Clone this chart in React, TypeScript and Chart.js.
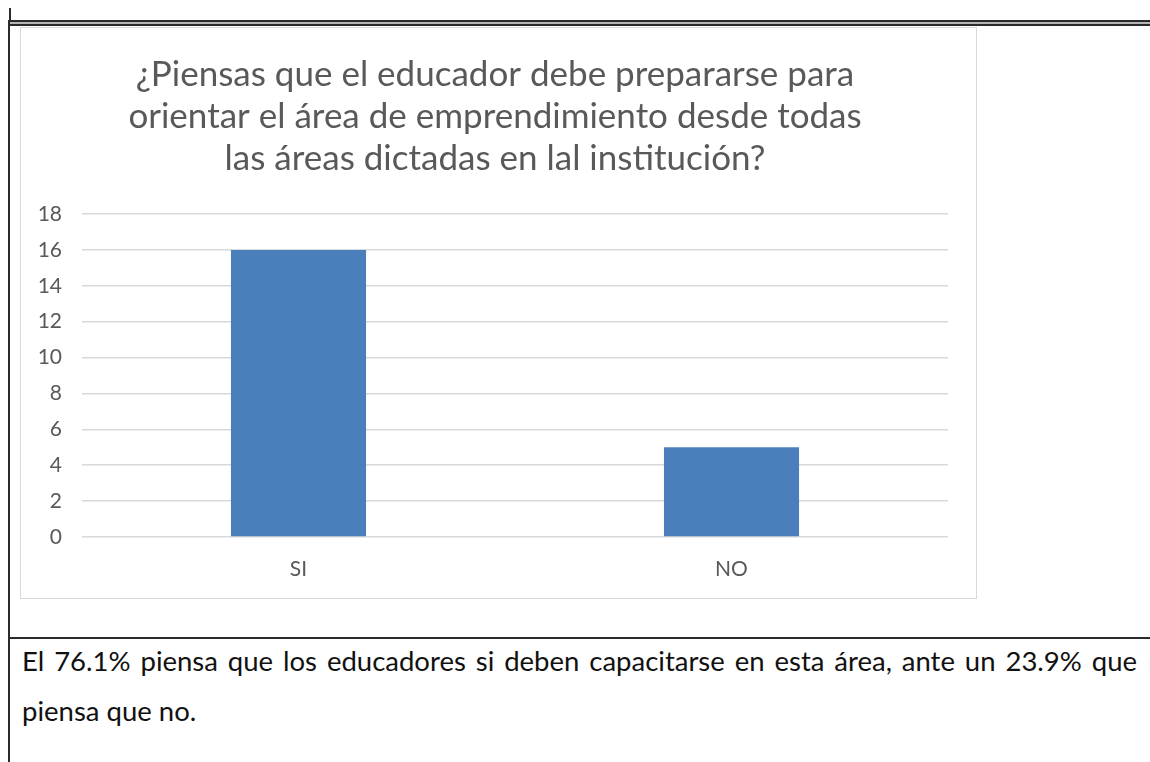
import React, { useEffect, useRef } from "react";
import { Chart, registerables } from "chart.js";

Chart.register(...registerables);

const categories: string[] = ["SI", "NO"];
const values: number[] = [16, 5];
const titleLines: string[] = [
  "¿Piensas que el educador debe prepararse para",
  "orientar el área de emprendimiento desde todas",
  "las áreas dictadas en lal institución?",
];
const yMin = 0;
const yMax = 18;
const yStep = 2;
const caption =
  "El 76.1% piensa que los educadores si deben capacitarse en esta área, ante un 23.9% que piensa que no.";

const FONT = "Lato, 'Open Sans', sans-serif";
const GREY = "#595959";

export default function App() {
  const canvasRef = useRef<HTMLCanvasElement | null>(null);

  useEffect(() => {
    if (!canvasRef.current) return;
    const chart = new Chart(canvasRef.current, {
      type: "bar",
      data: {
        labels: categories,
        datasets: [
          {
            data: values,
            backgroundColor: "#4b7fbc",
            borderWidth: 0,
            categoryPercentage: 1,
            barPercentage: 0.312,
          },
        ],
      },
      options: {
        animation: false,
        responsive: true,
        maintainAspectRatio: false,
        layout: { padding: { left: 0, right: 7, top: 0, bottom: 0 } },
        plugins: {
          legend: { display: false },
          tooltip: { enabled: false },
          title: {
            display: true,
            text: titleLines,
            color: GREY,
            font: { family: FONT, size: 35, weight: "normal", lineHeight: 1.2 },
            padding: { top: 26, bottom: 34 },
          },
        },
        scales: {
          x: {
            grid: { display: false },
            border: { display: false },
            ticks: {
              color: GREY,
              font: { family: FONT, size: 21 },
              padding: 12,
            },
            afterFit: (scale: any) => {
              scale.height = 61;
            },
          },
          y: {
            min: yMin,
            max: yMax,
            grid: { color: "#d9d9d9", lineWidth: 1.5, drawTicks: false },
            border: { display: false },
            ticks: {
              stepSize: yStep,
              color: GREY,
              font: { family: FONT, size: 21 },
              padding: 20,
            },
            afterFit: (scale: any) => {
              scale.width = 61;
            },
          },
          yRight: {
            position: "right",
            min: yMin,
            max: yMax,
            grid: { display: false, drawTicks: false },
            border: { display: false },
            ticks: { display: false },
            afterFit: (scale: any) => {
              scale.width = 21;
            },
          },
        },
      },
    });
    return () => chart.destroy();
  }, []);

  const dark = "#2b2b2b";
  return (
    <div>
      {/* small tick above table */}
      <div style={{ position: "absolute", left: 9, top: 8, width: 2, height: 14, background: dark }} />
      {/* double top border */}
      <div style={{ position: "absolute", left: 8, top: 20, width: 1142, height: 2, background: dark }} />
      <div style={{ position: "absolute", left: 8, top: 22, width: 1142, height: 2, background: "#b5b5b5" }} />
      <div style={{ position: "absolute", left: 8, top: 24, width: 1142, height: 2, background: dark }} />
      {/* left border */}
      <div style={{ position: "absolute", left: 8, top: 20, width: 2, height: 742, background: dark }} />
      {/* chart frame */}
      <div
        style={{
          position: "absolute",
          left: 20,
          top: 27,
          width: 955,
          height: 570,
          border: "1.5px solid #d9d9d9",
          background: "#ffffff",
        }}
      >
        <canvas ref={canvasRef} />
      </div>
      {/* row separator */}
      <div style={{ position: "absolute", left: 8, top: 637, width: 1142, height: 2, background: dark }} />
      {/* caption */}
      <div
        style={{
          position: "absolute",
          left: 22,
          top: 636,
          width: 1115,
          fontFamily: FONT,
          fontSize: 27.5,
          lineHeight: "50px",
          color: "#111111",
          textAlign: "justify",
        }}
      >
        {caption}
      </div>
    </div>
  );
}
